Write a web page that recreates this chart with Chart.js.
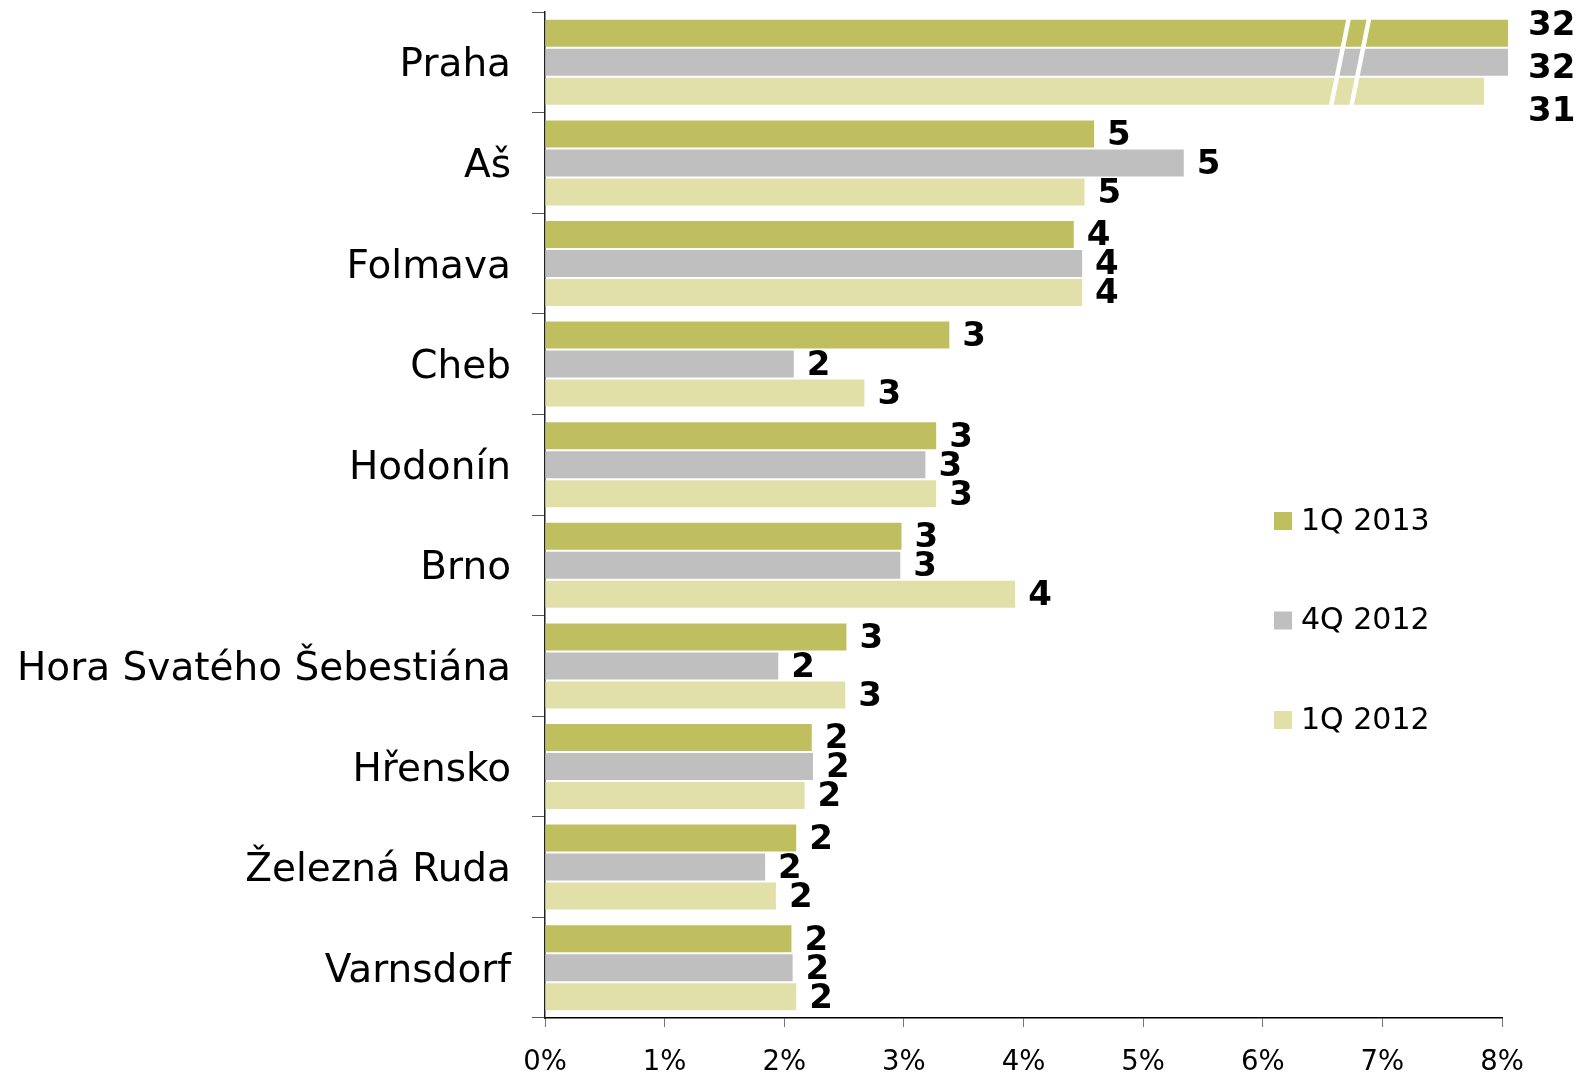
<!DOCTYPE html>
<html>
<head>
<meta charset="utf-8">
<script src="https://cdn.jsdelivr.net/npm/chart.js@4.4.1/dist/chart.umd.min.js"></script>
<style>
  body { margin: 0; background: #fff; }
  #wrap { width: 1581px; height: 1072px; position: relative; }
</style>
</head>
<body>
<div id="wrap"><canvas id="myChart"></canvas></div>
<script>
// categories and values (share in %)
const cities = ['Praha', 'Aš', 'Folmava', 'Cheb', 'Hodonín', 'Brno', 'Hora Svatého Šebestiána', 'Hřensko', 'Železná Ruda', 'Varnsdorf'];
const q1_2013 = [32.2, 4.59, 4.42, 3.38, 3.27, 2.98, 2.52, 2.23, 2.10, 2.06];
const q4_2012 = [32.2, 5.34, 4.49, 2.08, 3.18, 2.97, 1.95, 2.24, 1.84, 2.07];
const q1_2012 = [31.2, 4.51, 4.49, 2.67, 3.27, 3.93, 2.51, 2.17, 1.93, 2.10];
const seriesNames = ['1Q 2013', '4Q 2012', '1Q 2012'];
const xTicks = [0, 1, 2, 3, 4, 5, 6, 7, 8];

const colors = ['#c0bf60', '#bfbfbf', '#e1e0a8'];
const AXIS_MAX = 8;
const FONT = '"DejaVu Sans", Verdana, sans-serif';

// values above the axis are drawn with a broken (compressed) bar
function shown(v) {
    return v > AXIS_MAX ? 8.05 - (32.2 - v) * 0.2 : v;
}

const labelPlugin = {
    id: 'barLabels',
    afterDatasetsDraw(chart) {
        const ctx = chart.ctx;
        const area = chart.chartArea;
        ctx.save();
        ctx.font = 'bold 34px ' + FONT;
        ctx.fillStyle = '#000';
        ctx.textBaseline = 'middle';
        ctx.textAlign = 'left';
        chart.data.datasets.forEach((ds, i) => {
            chart.getDatasetMeta(i).data.forEach((bar, j) => {
                const v = ds.raw[j];
                if (v > AXIS_MAX) {
                    // broken bars: labels stacked beside the axis end
                    const mid = chart.getDatasetMeta(1).data[j];
                    ctx.fillText(Math.round(v), area.right + 26, mid.y + 7 + (i - 1) * 43);
                } else {
                    ctx.fillText(Math.round(v), bar.x + 13, bar.y + 2);
                }
            });
        });

        // axis break marks on the broken bars
        const xs = chart.scales.x;
        const top = chart.getDatasetMeta(0).data[0];
        const bottom = chart.getDatasetMeta(2).data[0];
        const y1 = top.y - top.height / 2 - 2;
        const y2 = bottom.y + bottom.height / 2 + 2;
        ctx.strokeStyle = '#fff';
        ctx.lineWidth = 4.5;
        [6.72, 6.89].forEach(b => {
            const px = xs.getPixelForValue(b);
            ctx.beginPath();
            ctx.moveTo(px, y1);
            ctx.lineTo(px - 18, y2);
            ctx.stroke();
        });

        // legend
        ctx.font = '30px ' + FONT;
        ctx.textBaseline = 'middle';
        chart.data.datasets.forEach((ds, i) => {
            const cy = 521 + i * 99.5;
            ctx.fillStyle = ds.backgroundColor;
            ctx.fillRect(1274, cy - 9, 18, 18);
            ctx.fillStyle = '#000';
            ctx.fillText(ds.label, 1301, cy + 1);
        });
        ctx.restore();
    }
};

const allSeries = [q1_2013, q4_2012, q1_2012];

const ctx = document.getElementById('myChart');
new Chart(ctx, {
    type: 'bar',
    data: {
        labels: cities,
        datasets: allSeries.map((s, i) => ({
            label: seriesNames[i],
            data: s.map(shown),
            raw: s,
            backgroundColor: colors[i],
            barPercentage: 0.93,
            categoryPercentage: 0.865,
            clip: false
        }))
    },
    options: {
        indexAxis: 'y',
        responsive: true,
        maintainAspectRatio: false,
        animation: false,
        layout: { padding: { top: 12, right: 79, left: 0, bottom: 0 } },
        plugins: {
            legend: { display: false },
            tooltip: { enabled: false }
        },
        scales: {
            x: {
                min: 0,
                max: AXIS_MAX,
                afterBuildTicks: scale => { scale.ticks = xTicks.map(v => ({ value: v })); },
                afterFit: scale => { scale.height = 54; },
                ticks: {
                    callback: v => v + '%',
                    color: '#000',
                    font: { family: FONT, size: 27.5 },
                    padding: 19,
                    maxRotation: 0
                },
                grid: {
                    drawOnChartArea: false,
                    tickLength: 9,
                    tickColor: '#777'
                },
                border: { color: '#000', width: 1.5 }
            },
            y: {
                afterFit: scale => {
                    scale.width = 545;
                    scale.paddingTop = 0;
                    scale.paddingBottom = 0;
                },
                ticks: {
                    color: '#000',
                    font: { family: FONT, size: 39 },
                    padding: 21,
                    labelOffset: 4
                },
                grid: {
                    drawOnChartArea: false,
                    tickLength: 13,
                    tickColor: '#555'
                },
                border: { color: '#222', width: 1.5 }
            }
        }
    },
    plugins: [labelPlugin]
});
</script>
</body>
</html>
